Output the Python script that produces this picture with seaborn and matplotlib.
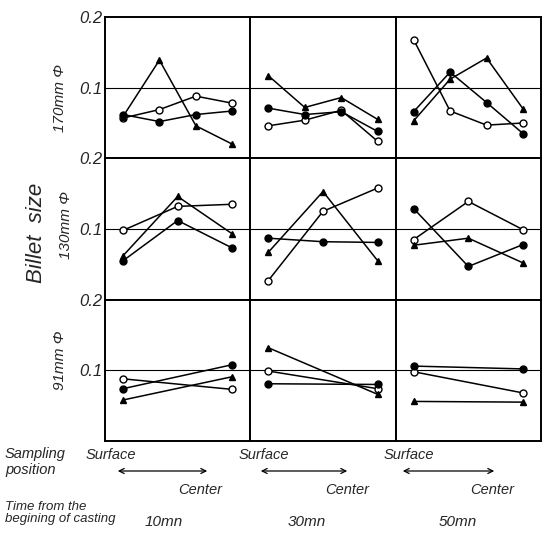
import numpy as np
import pandas as pd
import matplotlib
matplotlib.use('Agg')
import matplotlib.pyplot as plt
import seaborn as sns

sns.set_style('white')
plt.rcParams['font.family'] = ['Liberation Sans', 'DejaVu Sans']

times = ['10 mn', '30 mn', '50 mn']
size_labels = ['170mm Φ', '130mm Φ', '91mm Φ']
ytick_vals = [0.1, 0.2]
ytick_labels = ['0.1', '0.2']

# sampling positions, surface (0) -> center (1)
pos_170 = [0, 1/3, 2/3, 1]
pos_130 = [0, 0.5, 1]
pos_91 = [0, 1]

# one inner list per casting time (10, 30, 50 mn)
open_170 = [[0.057, 0.069, 0.088, 0.078], [0.046, 0.054, 0.068, 0.024], [0.168, 0.067, 0.047, 0.050]]
dot_170 = [[0.062, 0.052, 0.062, 0.067], [0.071, 0.062, 0.066, 0.038], [0.066, 0.122, 0.079, 0.035]]
tri_170 = [[0.059, 0.139, 0.046, 0.020], [0.117, 0.072, 0.086, 0.055], [0.053, 0.112, 0.142, 0.070]]

open_130 = [[0.098, 0.132, 0.135], [0.027, 0.125, 0.158], [0.085, 0.139, 0.099]]
dot_130 = [[0.055, 0.112, 0.073], [0.087, 0.082, 0.081], [0.129, 0.047, 0.078]]
tri_130 = [[0.062, 0.146, 0.093], [0.067, 0.153, 0.055], [0.077, 0.087, 0.052]]

open_91 = [[0.088, 0.073], [0.099, 0.074], [0.098, 0.068]]
dot_91 = [[0.074, 0.108], [0.081, 0.080], [0.106, 0.102]]
tri_91 = [[0.058, 0.091], [0.132, 0.066], [0.056, 0.055]]

rows = [
    (pos_170, {'open': open_170, 'dot': dot_170, 'tri': tri_170}),
    (pos_130, {'open': open_130, 'dot': dot_130, 'tri': tri_130}),
    (pos_91, {'open': open_91, 'dot': dot_91, 'tri': tri_91}),
]

records = []
for r, (pos, series) in enumerate(rows):
    for name, per_time in series.items():
        for c, vals in enumerate(per_time):
            for p, v in zip(pos, vals):
                records.append({'row': r, 'col': c, 'series': name, 'pos': p, 'val': v})
df = pd.DataFrame(records)

styles = {
    'open': dict(marker='o', mfc='white'),
    'dot': dict(marker='o', mfc='black'),
    'tri': dict(marker='^', mfc='black'),
}

W, H = 547, 541
fig, axes = plt.subplots(3, 3, figsize=(W / 100, H / 100), dpi=100)
fig.subplots_adjust(left=105 / W, right=541 / W, top=1 - 17 / H, bottom=1 - 441 / H,
                    wspace=0, hspace=0)

for r in range(3):
    for c in range(3):
        ax = axes[r, c]
        sub = df[(df.row == r) & (df.col == c)]
        ax.axhline(0.1, color='black', lw=0.8)
        for name, st in styles.items():
            s = sub[sub.series == name]
            sns.lineplot(data=s, x='pos', y='val', ax=ax, color='black', lw=1.1,
                         marker=st['marker'], mfc=st['mfc'], mec='black', mew=1,
                         markersize=5, legend=False)
        ax.set_xlim(-0.164, 1.164)
        ax.set_ylim(0, 0.2)
        ax.set_xticks([])
        ax.set_xlabel('')
        ax.set_ylabel('')
        if c == 0:
            ax.set_yticks(ytick_vals)
            ax.set_yticklabels(ytick_labels, fontsize=12, style='italic')
            ax.tick_params(axis='y', length=0, pad=2)
        else:
            ax.set_yticks([])
        for sp in ax.spines.values():
            sp.set_color('black')
            sp.set_linewidth(1.4)


def ftext(x, y, s, **kw):
    kw.setdefault('style', 'italic')
    kw.setdefault('fontsize', 10)
    fig.text(x / W, 1 - y / H, s, **kw)


# row labels
ftext(60, 98, size_labels[0], rotation=90, ha='center', va='center', fontsize=11)
ftext(66, 225, size_labels[1], rotation=90, ha='center', va='center', fontsize=11)
ftext(60, 360, size_labels[2], rotation=90, ha='center', va='center', fontsize=11)
ftext(36, 233, 'Billet  size', rotation=90, ha='center', va='center', fontsize=16)

# bottom annotations
ftext(5, 462, 'Sampling\nposition', ha='left', va='center', linespacing=1.1, fontsize=10.5)
ftext(5, 513, 'Time from the\nbegining of casting', ha='left', va='center', linespacing=1.1, fontsize=9.5)
surf_x = [111, 264, 409]
cent_x = [200, 347, 492]
arrow_x = [(115, 210), (258, 350), (400, 497)]
time_x = [164, 307, 458]
for c in range(3):
    ftext(surf_x[c], 455, 'Surface', ha='center', va='center', fontsize=10.5)
    ftext(cent_x[c], 490, 'Center', ha='center', va='center', fontsize=10.5)
    ftext(time_x[c], 522, times[c].replace(' ', ''), ha='center', va='center', fontsize=11)
    x0, x1 = arrow_x[c]
    fig.add_artist(matplotlib.patches.FancyArrowPatch(
        (x0 / W, 1 - 471 / H), (x1 / W, 1 - 471 / H), transform=fig.transFigure,
        arrowstyle='<->', mutation_scale=9, lw=0.9, color='black'))

fig.savefig('out.png', dpi=100)
